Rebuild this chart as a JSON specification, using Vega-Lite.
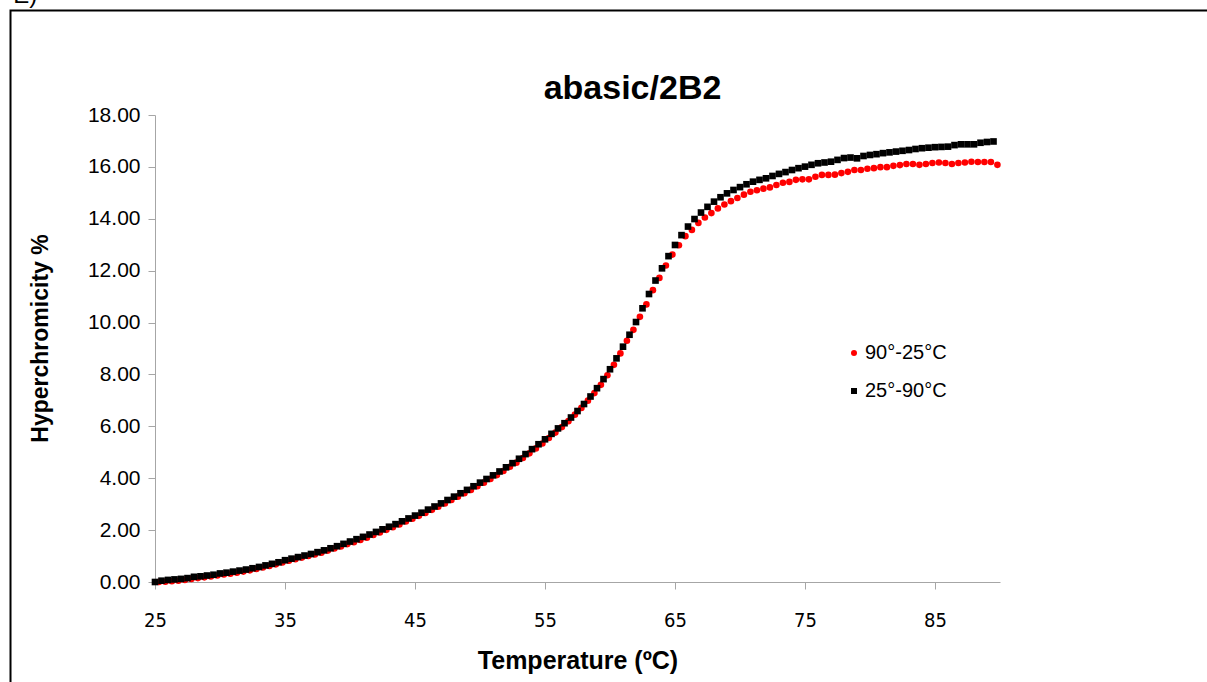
{
  "$schema": "https://vega.github.io/schema/vega-lite/v6.json",
  "autosize": {"type": "none"},
  "width": 845,
  "height": 467,
  "padding": {"left": 155, "top": 115, "right": 207, "bottom": 100},
  "background": "white",
  "title": {"text": "abasic/2B2", "font": "Liberation Sans", "fontSize": 34, "fontWeight": "bold", "color": "#000000", "anchor": "middle", "dx": 55, "offset": 8, "dy": 130},
  "config": {
    "view": {"stroke": null},
    "axis": {"grid": false, "domainColor": "#a6a6a6", "tickColor": "#a6a6a6", "tickSize": 7, "labelColor": "#000000", "titleColor": "#000000"}
  },
  "layer": [
    {
      "data": {"values": [
        {"series": "90°-25°C", "T": 25.3, "H": 0.00},
        {"series": "90°-25°C", "T": 25.8, "H": 0.01},
        {"series": "90°-25°C", "T": 26.3, "H": 0.03},
        {"series": "90°-25°C", "T": 26.8, "H": 0.05},
        {"series": "90°-25°C", "T": 27.3, "H": 0.08},
        {"series": "90°-25°C", "T": 27.8, "H": 0.12},
        {"series": "90°-25°C", "T": 28.3, "H": 0.15},
        {"series": "90°-25°C", "T": 28.8, "H": 0.18},
        {"series": "90°-25°C", "T": 29.3, "H": 0.21},
        {"series": "90°-25°C", "T": 29.8, "H": 0.25},
        {"series": "90°-25°C", "T": 30.3, "H": 0.29},
        {"series": "90°-25°C", "T": 30.8, "H": 0.32},
        {"series": "90°-25°C", "T": 31.3, "H": 0.36},
        {"series": "90°-25°C", "T": 31.8, "H": 0.40},
        {"series": "90°-25°C", "T": 32.3, "H": 0.45},
        {"series": "90°-25°C", "T": 32.8, "H": 0.50},
        {"series": "90°-25°C", "T": 33.3, "H": 0.56},
        {"series": "90°-25°C", "T": 33.8, "H": 0.62},
        {"series": "90°-25°C", "T": 34.3, "H": 0.68},
        {"series": "90°-25°C", "T": 34.8, "H": 0.75},
        {"series": "90°-25°C", "T": 35.3, "H": 0.82},
        {"series": "90°-25°C", "T": 35.8, "H": 0.88},
        {"series": "90°-25°C", "T": 36.3, "H": 0.94},
        {"series": "90°-25°C", "T": 36.8, "H": 1.00},
        {"series": "90°-25°C", "T": 37.3, "H": 1.06},
        {"series": "90°-25°C", "T": 37.8, "H": 1.13},
        {"series": "90°-25°C", "T": 38.3, "H": 1.21},
        {"series": "90°-25°C", "T": 38.8, "H": 1.29},
        {"series": "90°-25°C", "T": 39.3, "H": 1.37},
        {"series": "90°-25°C", "T": 39.8, "H": 1.46},
        {"series": "90°-25°C", "T": 40.3, "H": 1.53},
        {"series": "90°-25°C", "T": 40.8, "H": 1.62},
        {"series": "90°-25°C", "T": 41.3, "H": 1.71},
        {"series": "90°-25°C", "T": 41.8, "H": 1.81},
        {"series": "90°-25°C", "T": 42.3, "H": 1.91},
        {"series": "90°-25°C", "T": 42.8, "H": 2.01},
        {"series": "90°-25°C", "T": 43.3, "H": 2.11},
        {"series": "90°-25°C", "T": 43.8, "H": 2.22},
        {"series": "90°-25°C", "T": 44.3, "H": 2.33},
        {"series": "90°-25°C", "T": 44.8, "H": 2.44},
        {"series": "90°-25°C", "T": 45.3, "H": 2.55},
        {"series": "90°-25°C", "T": 45.8, "H": 2.66},
        {"series": "90°-25°C", "T": 46.3, "H": 2.78},
        {"series": "90°-25°C", "T": 46.8, "H": 2.90},
        {"series": "90°-25°C", "T": 47.3, "H": 3.03},
        {"series": "90°-25°C", "T": 47.8, "H": 3.16},
        {"series": "90°-25°C", "T": 48.3, "H": 3.29},
        {"series": "90°-25°C", "T": 48.8, "H": 3.42},
        {"series": "90°-25°C", "T": 49.3, "H": 3.55},
        {"series": "90°-25°C", "T": 49.8, "H": 3.69},
        {"series": "90°-25°C", "T": 50.3, "H": 3.83},
        {"series": "90°-25°C", "T": 50.8, "H": 3.97},
        {"series": "90°-25°C", "T": 51.3, "H": 4.12},
        {"series": "90°-25°C", "T": 51.8, "H": 4.28},
        {"series": "90°-25°C", "T": 52.3, "H": 4.44},
        {"series": "90°-25°C", "T": 52.8, "H": 4.60},
        {"series": "90°-25°C", "T": 53.3, "H": 4.78},
        {"series": "90°-25°C", "T": 53.8, "H": 4.96},
        {"series": "90°-25°C", "T": 54.3, "H": 5.15},
        {"series": "90°-25°C", "T": 54.8, "H": 5.34},
        {"series": "90°-25°C", "T": 55.3, "H": 5.55},
        {"series": "90°-25°C", "T": 55.8, "H": 5.76},
        {"series": "90°-25°C", "T": 56.3, "H": 5.97},
        {"series": "90°-25°C", "T": 56.8, "H": 6.20},
        {"series": "90°-25°C", "T": 57.3, "H": 6.45},
        {"series": "90°-25°C", "T": 57.8, "H": 6.71},
        {"series": "90°-25°C", "T": 58.3, "H": 6.99},
        {"series": "90°-25°C", "T": 58.8, "H": 7.28},
        {"series": "90°-25°C", "T": 59.3, "H": 7.60},
        {"series": "90°-25°C", "T": 59.8, "H": 7.97},
        {"series": "90°-25°C", "T": 60.3, "H": 8.37},
        {"series": "90°-25°C", "T": 60.8, "H": 8.81},
        {"series": "90°-25°C", "T": 61.3, "H": 9.30},
        {"series": "90°-25°C", "T": 61.8, "H": 9.72},
        {"series": "90°-25°C", "T": 62.3, "H": 10.22},
        {"series": "90°-25°C", "T": 62.8, "H": 10.70},
        {"series": "90°-25°C", "T": 63.3, "H": 11.25},
        {"series": "90°-25°C", "T": 63.8, "H": 11.72},
        {"series": "90°-25°C", "T": 64.3, "H": 12.20},
        {"series": "90°-25°C", "T": 64.8, "H": 12.62},
        {"series": "90°-25°C", "T": 65.3, "H": 12.98},
        {"series": "90°-25°C", "T": 65.8, "H": 13.33},
        {"series": "90°-25°C", "T": 66.3, "H": 13.57},
        {"series": "90°-25°C", "T": 66.8, "H": 13.84},
        {"series": "90°-25°C", "T": 67.3, "H": 14.05},
        {"series": "90°-25°C", "T": 67.8, "H": 14.22},
        {"series": "90°-25°C", "T": 68.3, "H": 14.40},
        {"series": "90°-25°C", "T": 68.8, "H": 14.55},
        {"series": "90°-25°C", "T": 69.3, "H": 14.68},
        {"series": "90°-25°C", "T": 69.8, "H": 14.80},
        {"series": "90°-25°C", "T": 70.3, "H": 14.93},
        {"series": "90°-25°C", "T": 70.8, "H": 15.04},
        {"series": "90°-25°C", "T": 71.3, "H": 15.10},
        {"series": "90°-25°C", "T": 71.8, "H": 15.16},
        {"series": "90°-25°C", "T": 72.3, "H": 15.21},
        {"series": "90°-25°C", "T": 72.8, "H": 15.30},
        {"series": "90°-25°C", "T": 73.3, "H": 15.39},
        {"series": "90°-25°C", "T": 73.8, "H": 15.42},
        {"series": "90°-25°C", "T": 74.3, "H": 15.50},
        {"series": "90°-25°C", "T": 74.8, "H": 15.52},
        {"series": "90°-25°C", "T": 75.3, "H": 15.52},
        {"series": "90°-25°C", "T": 75.8, "H": 15.62},
        {"series": "90°-25°C", "T": 76.3, "H": 15.69},
        {"series": "90°-25°C", "T": 76.8, "H": 15.69},
        {"series": "90°-25°C", "T": 77.3, "H": 15.70},
        {"series": "90°-25°C", "T": 77.8, "H": 15.76},
        {"series": "90°-25°C", "T": 78.3, "H": 15.81},
        {"series": "90°-25°C", "T": 78.8, "H": 15.88},
        {"series": "90°-25°C", "T": 79.3, "H": 15.88},
        {"series": "90°-25°C", "T": 79.8, "H": 15.93},
        {"series": "90°-25°C", "T": 80.3, "H": 15.95},
        {"series": "90°-25°C", "T": 80.8, "H": 15.99},
        {"series": "90°-25°C", "T": 81.3, "H": 15.99},
        {"series": "90°-25°C", "T": 81.8, "H": 16.04},
        {"series": "90°-25°C", "T": 82.3, "H": 16.07},
        {"series": "90°-25°C", "T": 82.8, "H": 16.11},
        {"series": "90°-25°C", "T": 83.3, "H": 16.11},
        {"series": "90°-25°C", "T": 83.8, "H": 16.08},
        {"series": "90°-25°C", "T": 84.3, "H": 16.11},
        {"series": "90°-25°C", "T": 84.8, "H": 16.15},
        {"series": "90°-25°C", "T": 85.3, "H": 16.17},
        {"series": "90°-25°C", "T": 85.8, "H": 16.15},
        {"series": "90°-25°C", "T": 86.3, "H": 16.11},
        {"series": "90°-25°C", "T": 86.8, "H": 16.15},
        {"series": "90°-25°C", "T": 87.3, "H": 16.17},
        {"series": "90°-25°C", "T": 87.8, "H": 16.20},
        {"series": "90°-25°C", "T": 88.3, "H": 16.19},
        {"series": "90°-25°C", "T": 88.8, "H": 16.19},
        {"series": "90°-25°C", "T": 89.3, "H": 16.19},
        {"series": "90°-25°C", "T": 89.8, "H": 16.08},
        {"series": "25°-90°C", "T": 25.0, "H": 0.00},
        {"series": "25°-90°C", "T": 25.5, "H": 0.05},
        {"series": "25°-90°C", "T": 26.0, "H": 0.08},
        {"series": "25°-90°C", "T": 26.5, "H": 0.10},
        {"series": "25°-90°C", "T": 27.0, "H": 0.12},
        {"series": "25°-90°C", "T": 27.5, "H": 0.15},
        {"series": "25°-90°C", "T": 28.0, "H": 0.20},
        {"series": "25°-90°C", "T": 28.5, "H": 0.22},
        {"series": "25°-90°C", "T": 29.0, "H": 0.25},
        {"series": "25°-90°C", "T": 29.5, "H": 0.28},
        {"series": "25°-90°C", "T": 30.0, "H": 0.33},
        {"series": "25°-90°C", "T": 30.5, "H": 0.36},
        {"series": "25°-90°C", "T": 31.0, "H": 0.40},
        {"series": "25°-90°C", "T": 31.5, "H": 0.44},
        {"series": "25°-90°C", "T": 32.0, "H": 0.48},
        {"series": "25°-90°C", "T": 32.5, "H": 0.53},
        {"series": "25°-90°C", "T": 33.0, "H": 0.58},
        {"series": "25°-90°C", "T": 33.5, "H": 0.64},
        {"series": "25°-90°C", "T": 34.0, "H": 0.70},
        {"series": "25°-90°C", "T": 34.5, "H": 0.76},
        {"series": "25°-90°C", "T": 35.0, "H": 0.84},
        {"series": "25°-90°C", "T": 35.5, "H": 0.90},
        {"series": "25°-90°C", "T": 36.0, "H": 0.96},
        {"series": "25°-90°C", "T": 36.5, "H": 1.02},
        {"series": "25°-90°C", "T": 37.0, "H": 1.08},
        {"series": "25°-90°C", "T": 37.5, "H": 1.15},
        {"series": "25°-90°C", "T": 38.0, "H": 1.22},
        {"series": "25°-90°C", "T": 38.5, "H": 1.30},
        {"series": "25°-90°C", "T": 39.0, "H": 1.38},
        {"series": "25°-90°C", "T": 39.5, "H": 1.47},
        {"series": "25°-90°C", "T": 40.0, "H": 1.56},
        {"series": "25°-90°C", "T": 40.5, "H": 1.65},
        {"series": "25°-90°C", "T": 41.0, "H": 1.74},
        {"series": "25°-90°C", "T": 41.5, "H": 1.83},
        {"series": "25°-90°C", "T": 42.0, "H": 1.93},
        {"series": "25°-90°C", "T": 42.5, "H": 2.03},
        {"series": "25°-90°C", "T": 43.0, "H": 2.13},
        {"series": "25°-90°C", "T": 43.5, "H": 2.23},
        {"series": "25°-90°C", "T": 44.0, "H": 2.34},
        {"series": "25°-90°C", "T": 44.5, "H": 2.45},
        {"series": "25°-90°C", "T": 45.0, "H": 2.56},
        {"series": "25°-90°C", "T": 45.5, "H": 2.67},
        {"series": "25°-90°C", "T": 46.0, "H": 2.79},
        {"series": "25°-90°C", "T": 46.5, "H": 2.91},
        {"series": "25°-90°C", "T": 47.0, "H": 3.03},
        {"series": "25°-90°C", "T": 47.5, "H": 3.16},
        {"series": "25°-90°C", "T": 48.0, "H": 3.29},
        {"series": "25°-90°C", "T": 48.5, "H": 3.42},
        {"series": "25°-90°C", "T": 49.0, "H": 3.55},
        {"series": "25°-90°C", "T": 49.5, "H": 3.69},
        {"series": "25°-90°C", "T": 50.0, "H": 3.83},
        {"series": "25°-90°C", "T": 50.5, "H": 3.97},
        {"series": "25°-90°C", "T": 51.0, "H": 4.11},
        {"series": "25°-90°C", "T": 51.5, "H": 4.26},
        {"series": "25°-90°C", "T": 52.0, "H": 4.42},
        {"series": "25°-90°C", "T": 52.5, "H": 4.58},
        {"series": "25°-90°C", "T": 53.0, "H": 4.75},
        {"series": "25°-90°C", "T": 53.5, "H": 4.93},
        {"series": "25°-90°C", "T": 54.0, "H": 5.12},
        {"series": "25°-90°C", "T": 54.5, "H": 5.31},
        {"series": "25°-90°C", "T": 55.0, "H": 5.50},
        {"series": "25°-90°C", "T": 55.5, "H": 5.71},
        {"series": "25°-90°C", "T": 56.0, "H": 5.92},
        {"series": "25°-90°C", "T": 56.5, "H": 6.12},
        {"series": "25°-90°C", "T": 57.0, "H": 6.34},
        {"series": "25°-90°C", "T": 57.5, "H": 6.59},
        {"series": "25°-90°C", "T": 58.0, "H": 6.86},
        {"series": "25°-90°C", "T": 58.5, "H": 7.15},
        {"series": "25°-90°C", "T": 59.0, "H": 7.47},
        {"series": "25°-90°C", "T": 59.5, "H": 7.82},
        {"series": "25°-90°C", "T": 60.0, "H": 8.20},
        {"series": "25°-90°C", "T": 60.5, "H": 8.62},
        {"series": "25°-90°C", "T": 61.0, "H": 9.07},
        {"series": "25°-90°C", "T": 61.5, "H": 9.53},
        {"series": "25°-90°C", "T": 62.0, "H": 10.02},
        {"series": "25°-90°C", "T": 62.5, "H": 10.55},
        {"series": "25°-90°C", "T": 63.0, "H": 11.10},
        {"series": "25°-90°C", "T": 63.5, "H": 11.62},
        {"series": "25°-90°C", "T": 64.0, "H": 12.09},
        {"series": "25°-90°C", "T": 64.5, "H": 12.56},
        {"series": "25°-90°C", "T": 65.0, "H": 12.99},
        {"series": "25°-90°C", "T": 65.5, "H": 13.37},
        {"series": "25°-90°C", "T": 66.0, "H": 13.70},
        {"series": "25°-90°C", "T": 66.5, "H": 13.99},
        {"series": "25°-90°C", "T": 67.0, "H": 14.24},
        {"series": "25°-90°C", "T": 67.5, "H": 14.46},
        {"series": "25°-90°C", "T": 68.0, "H": 14.66},
        {"series": "25°-90°C", "T": 68.5, "H": 14.83},
        {"series": "25°-90°C", "T": 69.0, "H": 14.98},
        {"series": "25°-90°C", "T": 69.5, "H": 15.11},
        {"series": "25°-90°C", "T": 70.0, "H": 15.22},
        {"series": "25°-90°C", "T": 70.5, "H": 15.33},
        {"series": "25°-90°C", "T": 71.0, "H": 15.43},
        {"series": "25°-90°C", "T": 71.5, "H": 15.50},
        {"series": "25°-90°C", "T": 72.0, "H": 15.56},
        {"series": "25°-90°C", "T": 72.5, "H": 15.65},
        {"series": "25°-90°C", "T": 73.0, "H": 15.73},
        {"series": "25°-90°C", "T": 73.5, "H": 15.80},
        {"series": "25°-90°C", "T": 74.0, "H": 15.88},
        {"series": "25°-90°C", "T": 74.5, "H": 15.95},
        {"series": "25°-90°C", "T": 75.0, "H": 16.01},
        {"series": "25°-90°C", "T": 75.5, "H": 16.08},
        {"series": "25°-90°C", "T": 76.0, "H": 16.14},
        {"series": "25°-90°C", "T": 76.5, "H": 16.17},
        {"series": "25°-90°C", "T": 77.0, "H": 16.20},
        {"series": "25°-90°C", "T": 77.5, "H": 16.27},
        {"series": "25°-90°C", "T": 78.0, "H": 16.34},
        {"series": "25°-90°C", "T": 78.5, "H": 16.36},
        {"series": "25°-90°C", "T": 79.0, "H": 16.33},
        {"series": "25°-90°C", "T": 79.5, "H": 16.42},
        {"series": "25°-90°C", "T": 80.0, "H": 16.46},
        {"series": "25°-90°C", "T": 80.5, "H": 16.49},
        {"series": "25°-90°C", "T": 81.0, "H": 16.53},
        {"series": "25°-90°C", "T": 81.5, "H": 16.56},
        {"series": "25°-90°C", "T": 82.0, "H": 16.59},
        {"series": "25°-90°C", "T": 82.5, "H": 16.62},
        {"series": "25°-90°C", "T": 83.0, "H": 16.65},
        {"series": "25°-90°C", "T": 83.5, "H": 16.69},
        {"series": "25°-90°C", "T": 84.0, "H": 16.72},
        {"series": "25°-90°C", "T": 84.5, "H": 16.74},
        {"series": "25°-90°C", "T": 85.0, "H": 16.76},
        {"series": "25°-90°C", "T": 85.5, "H": 16.77},
        {"series": "25°-90°C", "T": 86.0, "H": 16.78},
        {"series": "25°-90°C", "T": 86.5, "H": 16.84},
        {"series": "25°-90°C", "T": 87.0, "H": 16.87},
        {"series": "25°-90°C", "T": 87.5, "H": 16.87},
        {"series": "25°-90°C", "T": 88.0, "H": 16.87},
        {"series": "25°-90°C", "T": 88.5, "H": 16.93},
        {"series": "25°-90°C", "T": 89.0, "H": 16.96},
        {"series": "25°-90°C", "T": 89.5, "H": 16.98}
      ]},
      "mark": {"type": "point", "filled": true, "opacity": 1, "size": 44},
      "encoding": {
        "x": {"field": "T", "type": "quantitative",
          "scale": {"domain": [25, 90], "nice": false, "zero": false},
          "axis": {"title": "Temperature (ºC)", "values": [25, 35, 45, 55, 65, 75, 85], "labelFlush": false,
            "labelFont": "DejaVu Sans Condensed, Liberation Sans", "labelFontSize": 20, "labelPadding": 21,
            "titleFont": "Liberation Sans", "titleFontSize": 25, "titleFontWeight": "bold",
            "titleBaseline": "middle", "titleY": 78}},
        "y": {"field": "H", "type": "quantitative",
          "scale": {"domain": [0, 18], "nice": false},
          "axis": {"title": "Hyperchromicity %", "values": [0, 2, 4, 6, 8, 10, 12, 14, 16, 18], "format": ".2f",
            "labelFont": "Liberation Sans", "labelFontSize": 21, "labelPadding": 8,
            "titleFont": "Liberation Sans", "titleFontSize": 23, "titleFontWeight": "bold",
            "titleAngle": 270, "titleBaseline": "middle", "titleAlign": "center", "titleX": -115, "titleY": 223}},
        "color": {"field": "series", "type": "nominal",
          "scale": {"domain": ["90°-25°C", "25°-90°C"], "range": ["#ff0000", "#000000"]},
          "legend": {"title": null, "orient": "none", "legendX": 689, "legendY": 228, "padding": 0,
            "labelFont": "Liberation Sans", "labelFontSize": 20, "labelColor": "#000000", "labelOffset": 1,
            "rowPadding": 18, "symbolSize": 36}},
        "shape": {"field": "series", "type": "nominal",
          "scale": {"domain": ["90°-25°C", "25°-90°C"], "range": ["circle", "square"]}}
      }
    },
    {
      "data": {"values": [{}]},
      "mark": {"type": "rect", "fill": "transparent", "stroke": "#000000", "strokeWidth": 2, "clip": false},
      "encoding": {
        "x": {"datum": 13.885, "type": "quantitative"},
        "x2": {"datum": 110},
        "y": {"datum": 22.03, "type": "quantitative"},
        "y2": {"datum": -10}
      }
    },
    {
      "data": {"values": [{}]},
      "mark": {"type": "text", "text": "E)", "font": "Liberation Sans", "fontSize": 24, "align": "left", "baseline": "alphabetic", "clip": false, "color": "#000000"},
      "encoding": {
        "x": {"datum": 14.1, "type": "quantitative"},
        "y": {"datum": 22.32, "type": "quantitative"}
      }
    }
  ]
}
